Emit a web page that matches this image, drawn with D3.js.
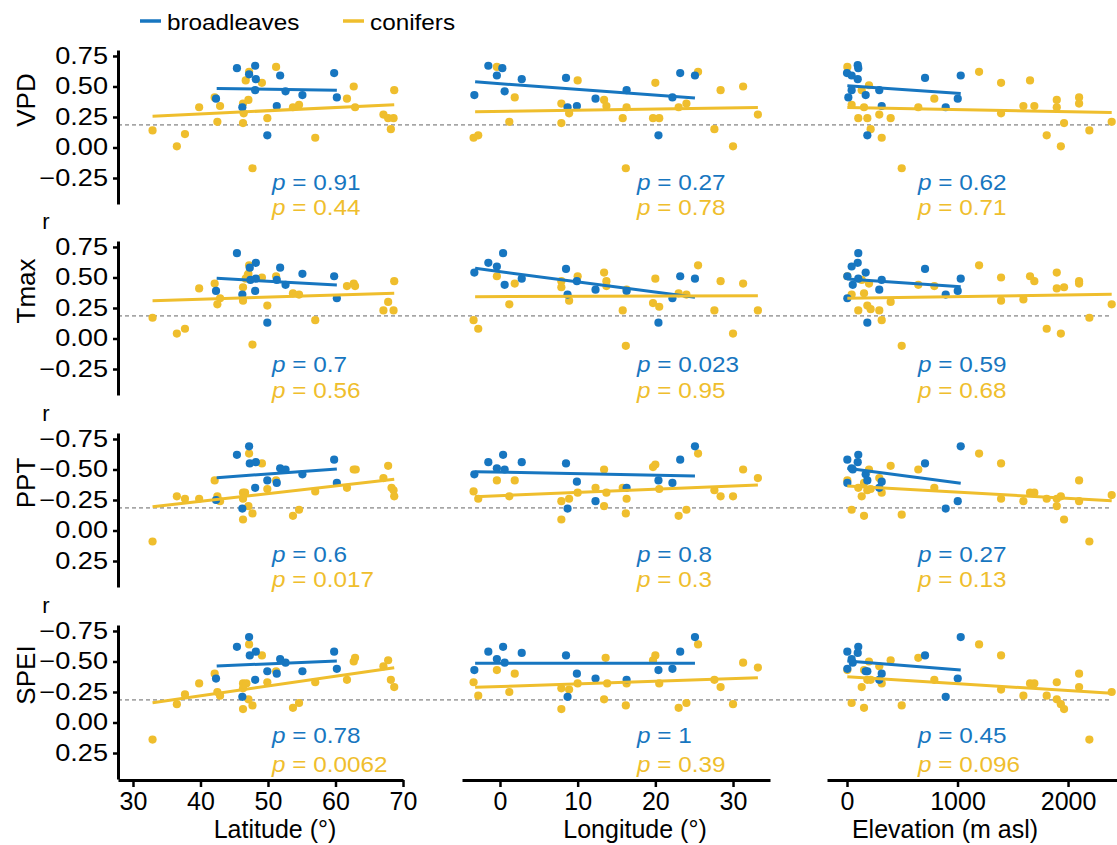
<!DOCTYPE html>
<html>
<head>
<meta charset="utf-8">
<script src="https://cdn.jsdelivr.net/npm/d3@7"></script>
<style>
  body { margin: 0; background: #fff; }
  text { font-family: "Liberation Sans", Arial, sans-serif; fill: #000; }
</style>
</head>
<body>
<svg id="chart" width="1117" height="845"></svg>
<script>
// ---- data (r values; PPT / SPEI rows as shown on their axes) ----
const variables = ["VPD", "Tmax", "PPT", "SPEI"];
const predictors = ["Latitude (°)", "Longitude (°)", "Elevation (m asl)"];
const groups = ["broadleaves", "conifers"];
const xTicks = [[30, 40, 50, 60, 70], [0, 10, 20, 30], [0, 1000, 2000]];
const yTicksUp = [0.75, 0.5, 0.25, 0, -0.25];
const yTicksDown = [-0.75, -0.5, -0.25, 0, 0.25];
const threshold = 0.185;

// VPD
const vpdLatB = [[45.4,0.65],[48.1,0.67],[47.2,0.60],[48.2,0.56],[51.8,0.59],[59.8,0.61],[48.1,0.47],[52.6,0.46],[55.1,0.43],[60.2,0.41],[42.3,0.40],[46.2,0.33],[51.3,0.34],[49.9,0.10]];
const vpdLatC = [[32.9,0.14],[36.5,0.01],[37.7,0.11],[39.8,0.33],[42.1,0.41],[42.9,0.34],[42.5,0.21],[46.3,0.36],[46.4,0.28],[46.3,0.20],[46.7,0.55],[47.2,0.62],[47.1,0.39],[49.1,0.53],[51.2,0.66],[47.7,-0.17],[49.9,0.24],[53.7,0.33],[54.6,0.35],[57.0,0.08],[61.7,0.40],[62.7,0.50],[62.9,0.33],[67.1,0.27],[67.8,0.24],[68.6,0.24],[68.2,0.15],[68.7,0.47]];
const vpdLonB = [[-1.5,0.67],[0.3,0.65],[-0.4,0.59],[2.8,0.56],[-3.3,0.43],[0.6,0.46],[8.5,0.57],[8.7,0.33],[9.9,0.34],[12.3,0.40],[16.3,0.47],[20.4,0.10],[22.2,0.41],[23.2,0.61],[25.1,0.59]];
const vpdLonC = [[-0.4,0.66],[-3.4,0.08],[-2.8,0.10],[1.2,0.21],[1.9,0.41],[7.9,0.36],[8.9,0.28],[7.9,0.20],[10.0,0.55],[13.4,0.39],[13.7,0.34],[15.8,0.24],[16.3,0.33],[16.2,-0.17],[20.0,0.53],[19.7,0.24],[20.5,0.24],[23.0,0.33],[24.0,0.36],[25.5,0.62],[28.4,0.47],[27.6,0.15],[30.0,0.01],[31.3,0.50],[33.2,0.27]];
const vpdElevB = [[97,0.675],[102,0.65],[0,0.61],[42,0.59],[97,0.56],[706,0.57],[1029,0.59],[42,0.47],[169,0.43],[292,0.47],[12,0.41],[314,0.34],[893,0.33],[1002,0.40],[184,0.10]];
const vpdElevC = [[3,0.66],[199,0.51],[133,0.47],[42,0.35],[154,0.33],[102,0.24],[184,0.24],[292,0.27],[395,0.24],[214,0.15],[314,0.08],[495,-0.17],[645,0.33],[790,0.40],[1195,0.62],[1394,0.53],[1394,0.28],[1596,0.34],[1695,0.34],[1656,0.55],[1807,0.10],[1898,0.39],[1898,0.33],[1964,0.20],[1935,0.01],[2100,0.41],[2100,0.36],[2193,0.14],[2395,0.21]];

// Tmax
const tmaxLatB = [[45.4,0.70],[48.2,0.62],[47.3,0.58],[51.8,0.58],[55.1,0.53],[59.8,0.51],[48.2,0.49],[47.4,0.48],[52.6,0.44],[42.3,0.39],[48.1,0.39],[46.2,0.36],[60.2,0.33],[49.9,0.13],[51.3,0.48]];
const tmaxLatC = [[32.9,0.17],[36.5,0.04],[37.7,0.08],[39.8,0.41],[42.1,0.45],[42.9,0.33],[42.5,0.28],[46.3,0.42],[46.3,0.31],[46.7,0.49],[47.2,0.60],[47.1,0.53],[47.0,0.52],[49.1,0.50],[51.2,0.51],[47.7,-0.05],[49.9,0.27],[53.7,0.37],[54.6,0.36],[57.0,0.15],[61.7,0.43],[62.7,0.45],[62.9,0.43],[67.1,0.23],[67.8,0.30],[68.6,0.23],[68.7,0.47]];
const tmaxLonB = [[0.4,0.70],[-1.5,0.62],[-0.4,0.59],[-3.3,0.54],[2.8,0.49],[0.6,0.44],[8.5,0.57],[9.9,0.47],[8.7,0.36],[12.3,0.40],[16.3,0.39],[20.4,0.13],[22.2,0.33],[23.2,0.51],[25.1,0.49]];
const tmaxLonC = [[-3.4,0.15],[-2.8,0.08],[-0.4,0.51],[1.2,0.28],[1.9,0.45],[7.9,0.47],[7.9,0.42],[8.9,0.31],[10.0,0.51],[13.4,0.54],[13.7,0.47],[13.7,0.43],[15.8,0.23],[16.3,0.40],[16.2,-0.06],[20.0,0.49],[19.7,0.29],[20.5,0.26],[23.0,0.37],[24.0,0.36],[25.5,0.60],[28.4,0.47],[27.6,0.23],[30.0,0.04],[31.3,0.45],[33.2,0.23]];
const tmaxElevB = [[102,0.70],[97,0.62],[42,0.59],[169,0.54],[706,0.57],[3,0.51],[102,0.49],[314,0.48],[1029,0.49],[52,0.44],[292,0.40],[1002,0.39],[893,0.36],[3,0.33],[184,0.13]];
const tmaxElevC = [[3,0.51],[199,0.45],[133,0.48],[42,0.36],[154,0.37],[102,0.23],[184,0.27],[214,0.24],[292,0.23],[314,0.15],[395,0.30],[495,-0.06],[645,0.44],[790,0.43],[1195,0.60],[1394,0.50],[1394,0.31],[1596,0.32],[1656,0.51],[1695,0.47],[1807,0.08],[1898,0.54],[1898,0.41],[1964,0.42],[1935,0.04],[2100,0.47],[2100,0.45],[2193,0.17],[2395,0.28]];

// PPT
const pptLatB = [[47.2,-0.69],[45.4,-0.62],[47.3,-0.55],[48.2,-0.56],[59.8,-0.58],[51.8,-0.51],[52.6,-0.50],[55.1,-0.46],[49.9,-0.41],[51.3,-0.39],[60.2,-0.39],[48.1,-0.35],[42.3,-0.25],[46.2,-0.18]];
const pptLatC = [[32.9,0.09],[36.5,-0.28],[37.7,-0.26],[39.8,-0.26],[42.1,-0.41],[42.5,-0.28],[42.9,-0.24],[46.3,-0.31],[46.6,-0.31],[46.3,-0.26],[47.1,-0.20],[46.3,-0.09],[47.7,-0.14],[47.2,-0.63],[49.1,-0.55],[51.2,-0.41],[49.9,-0.34],[53.7,-0.12],[54.6,-0.17],[57.0,-0.32],[61.7,-0.35],[62.7,-0.50],[63.0,-0.50],[67.1,-0.43],[67.8,-0.53],[68.3,-0.35],[68.6,-0.33],[68.7,-0.28]];
const pptLonB = [[25.1,-0.69],[0.4,-0.62],[-1.5,-0.56],[2.8,-0.56],[8.5,-0.55],[-0.4,-0.51],[0.6,-0.50],[23.2,-0.58],[-3.3,-0.46],[9.9,-0.40],[20.4,-0.41],[22.2,-0.39],[16.3,-0.35],[12.3,-0.24],[8.7,-0.18]];
const pptLonC = [[25.5,-0.63],[20.0,-0.54],[19.7,-0.52],[31.3,-0.50],[33.2,-0.43],[13.4,-0.50],[-0.4,-0.41],[1.9,-0.41],[-3.4,-0.32],[-2.8,-0.26],[1.2,-0.28],[7.9,-0.24],[8.9,-0.26],[10.0,-0.31],[12.3,-0.35],[13.7,-0.31],[15.8,-0.35],[16.3,-0.26],[20.5,-0.34],[27.6,-0.33],[28.4,-0.28],[30.0,-0.28],[13.4,-0.20],[7.9,-0.09],[16.2,-0.14],[23.0,-0.12],[24.0,-0.17]];
const pptElevB = [[1029,-0.69],[102,-0.62],[3,-0.58],[97,-0.56],[706,-0.55],[42,-0.51],[52,-0.50],[169,-0.46],[184,-0.41],[314,-0.40],[3,-0.39],[292,-0.35],[1002,-0.24],[893,-0.18]];
const pptElevC = [[1195,-0.63],[1394,-0.55],[395,-0.53],[645,-0.50],[199,-0.50],[2100,-0.41],[3,-0.41],[292,-0.43],[154,-0.39],[102,-0.35],[184,-0.33],[214,-0.34],[314,-0.31],[133,-0.28],[790,-0.35],[1656,-0.31],[1695,-0.31],[1394,-0.26],[1596,-0.24],[1807,-0.26],[1898,-0.26],[1935,-0.28],[2100,-0.24],[2395,-0.29],[1898,-0.20],[42,-0.17],[154,-0.12],[495,-0.13],[1964,-0.09],[2193,0.09]];

// SPEI
const speiLatB = [[47.2,-0.70],[45.4,-0.62],[47.3,-0.55],[48.2,-0.58],[59.8,-0.58],[51.8,-0.52],[52.6,-0.49],[55.1,-0.42],[49.9,-0.42],[51.3,-0.40],[60.2,-0.44],[48.1,-0.35],[42.3,-0.36],[46.2,-0.21]];
const speiLatC = [[32.9,0.14],[36.5,-0.15],[37.7,-0.23],[39.8,-0.32],[42.1,-0.40],[42.5,-0.25],[42.9,-0.22],[46.3,-0.32],[46.8,-0.32],[46.3,-0.28],[47.1,-0.19],[46.3,-0.11],[47.7,-0.14],[47.2,-0.64],[49.1,-0.55],[51.2,-0.42],[49.9,-0.33],[53.7,-0.12],[54.6,-0.16],[57.0,-0.33],[61.7,-0.35],[62.7,-0.50],[62.9,-0.53],[67.1,-0.46],[67.8,-0.51],[68.2,-0.35],[68.7,-0.29]];
const speiLonB = [[25.1,-0.70],[0.4,-0.62],[-1.5,-0.58],[2.8,-0.57],[23.2,-0.58],[8.5,-0.55],[-0.4,-0.52],[0.6,-0.49],[-3.3,-0.43],[20.4,-0.43],[22.2,-0.44],[9.9,-0.40],[12.3,-0.36],[16.3,-0.35],[8.7,-0.21]];
const speiLonC = [[25.5,-0.64],[20.0,-0.55],[19.7,-0.51],[31.3,-0.49],[33.2,-0.45],[13.6,-0.53],[-0.4,-0.43],[1.9,-0.40],[-3.4,-0.33],[-2.8,-0.22],[1.2,-0.25],[7.9,-0.28],[8.9,-0.27],[10.0,-0.32],[13.8,-0.32],[16.3,-0.32],[20.5,-0.32],[27.6,-0.35],[28.4,-0.29],[30.0,-0.15],[13.4,-0.19],[7.9,-0.11],[16.2,-0.14],[23.0,-0.12],[24.0,-0.16]];
const speiElevB = [[1029,-0.70],[102,-0.62],[3,-0.58],[97,-0.57],[706,-0.55],[42,-0.52],[52,-0.49],[169,-0.42],[184,-0.42],[314,-0.40],[3,-0.44],[292,-0.35],[1002,-0.36],[893,-0.21]];
const speiElevC = [[1195,-0.64],[1394,-0.55],[645,-0.53],[395,-0.51],[199,-0.50],[292,-0.46],[2100,-0.40],[3,-0.43],[154,-0.43],[184,-0.35],[214,-0.35],[314,-0.32],[133,-0.29],[790,-0.35],[1656,-0.32],[1695,-0.32],[1898,-0.33],[1394,-0.27],[1596,-0.22],[1807,-0.22],[2100,-0.29],[2395,-0.25],[1898,-0.19],[1935,-0.15],[1964,-0.11],[42,-0.16],[154,-0.12],[495,-0.14],[2193,0.14]];

// fitted lines: [x start, y start, x end, y end], per row then column
const fitsB = [
  [[42.4,0.484,60.2,0.470], [-3.2,0.538,25.1,0.405], [3,0.506,1029,0.443]],
  [[42.4,0.493,60.2,0.439], [-3.2,0.575,25.1,0.338], [3,0.488,1029,0.425]],
  [[42.4,-0.433,60.2,-0.504], [-3.2,-0.482,25.1,-0.447], [3,-0.510,1029,-0.387]],
  [[42.4,-0.463,60.2,-0.504], [-3.2,-0.485,25.1,-0.485], [3,-0.504,1029,-0.430]]
];
const fitsC = [
  [[32.9,0.257,68.7,0.350], [-3.2,0.292,33.2,0.328], [3,0.328,2395,0.287]],
  [[32.9,0.310,68.7,0.370], [-3.2,0.343,33.2,0.351], [3,0.330,2395,0.362]],
  [[32.9,-0.195,68.7,-0.420], [-3.2,-0.277,33.2,-0.373], [3,-0.365,2395,-0.244]],
  [[32.9,-0.162,68.7,-0.449], [-3.2,-0.288,33.2,-0.367], [3,-0.375,2395,-0.239]]
];
const pB = [["0.91","0.27","0.62"], ["0.7","0.023","0.59"], ["0.6","0.8","0.27"], ["0.78","1","0.45"]];
const pC = [["0.44","0.78","0.71"], ["0.56","0.95","0.68"], ["0.017","0.3","0.13"], ["0.0062","0.39","0.096"]];

const pointsB = [[vpdLatB, vpdLonB, vpdElevB], [tmaxLatB, tmaxLonB, tmaxElevB], [pptLatB, pptLonB, pptElevB], [speiLatB, speiLonB, speiElevB]];
const pointsC = [[vpdLatC, vpdLonC, vpdElevC], [tmaxLatC, tmaxLonC, tmaxElevC], [pptLatC, pptLonC, pptElevC], [speiLatC, speiLonC, speiElevC]];

// ---- layout ----
const colRange = [[118, 403], [462, 770], [827, 1117]];
const colDomain = [[27.78, 70], [-4.89, 34.76], [-181, 2443]];
const rowTop = [50, 241, 433, 625];
const panelH = 154;
const yLow = -0.463, yHigh = 0.799;
const pLabelX = [272, 637, 918];
const pLabelDy = [[140, 165], [131, 157], [129, 154], [118, 147]];
const titleX = [275, 635, 945];
const blue = "#1776C0", yellow = "#EFBE2D";
const fontTick = 23, sxTick = 1.18;

const svg = d3.select("#chart");

function scaledText(g, x, y, size, sx) {
  return g.append("text")
    .attr("transform", `translate(${x},${y}) scale(${sx},1)`)
    .attr("font-size", size);
}

// legend
[[140, blue, groups[0]], [343, yellow, groups[1]]].forEach(([x, c, label]) => {
  svg.append("line").attr("x1", x).attr("x2", x + 21).attr("y1", 21).attr("y2", 21)
    .attr("stroke", c).attr("stroke-width", 3.5);
  scaledText(svg, x + 27, 30, 22.5, 1.08).text(label);
});

variables.forEach((v, ri) => {
  const top = rowTop[ri];
  const flipped = ri >= 2;
  const y = d3.scaleLinear()
    .domain(flipped ? [-yLow, -yHigh] : [yLow, yHigh])
    .range([top + panelH, top]);

  // threshold line across the row
  const thr = flipped ? -threshold : threshold;
  svg.append("line")
    .attr("x1", colRange[0][0]).attr("x2", colRange[2][1] - 8)
    .attr("y1", y(thr)).attr("y2", y(thr))
    .attr("stroke", "#666").attr("stroke-width", 1).attr("stroke-dasharray", "4,3");

  // y axis (first column only)
  const yAxis = d3.axisLeft(y)
    .tickValues(flipped ? yTicksDown : yTicksUp)
    .tickFormat(d3.format(".2f"))
    .tickSize(5).tickSizeOuter(0);
  const ya = svg.append("g").attr("transform", `translate(${colRange[0][0]},0)`).call(yAxis);
  ya.select(".domain").attr("stroke", "#000").attr("stroke-width", 3);
  ya.selectAll(".tick line").attr("stroke", "#000").attr("stroke-width", 2.5);
  ya.selectAll(".tick text")
    .attr("font-size", fontTick).attr("fill", "#000")
    .attr("x", -10 / sxTick).attr("transform", `scale(${sxTick},1)`)
    .attr("font-family", "Liberation Sans, Arial, sans-serif");

  // row title and "r"
  svg.append("text")
    .attr("transform", `translate(35,${top + 50}) rotate(-90)`)
    .attr("text-anchor", "middle").attr("font-size", 26).text(v);
  if (ri > 0) {
    svg.append("text").attr("x", 46).attr("y", top - 12)
      .attr("text-anchor", "middle").attr("font-size", 22).text("r");
  }

  predictors.forEach((pname, ci) => {
    const x = d3.scaleLinear().domain(colDomain[ci]).range(colRange[ci]);
    const g = svg.append("g");

    const series = [[pointsC[ri][ci], yellow], [pointsB[ri][ci], blue]];
    series.forEach(([pts, c]) => {
      g.append("g").selectAll("circle").data(pts).join("circle")
        .attr("cx", d => x(d[0])).attr("cy", d => y(d[1]))
        .attr("r", 4.1).attr("fill", c);
    });

    [[fitsB[ri][ci], blue], [fitsC[ri][ci], yellow]].forEach(([f, c]) => {
      g.append("line")
        .attr("x1", x(f[0])).attr("y1", y(f[1]))
        .attr("x2", x(f[2])).attr("y2", y(f[3]))
        .attr("stroke", c).attr("stroke-width", 3).attr("stroke-linecap", "butt");
    });

    // p-values
    [[pB[ri][ci], blue, pLabelDy[ri][0]], [pC[ri][ci], yellow, pLabelDy[ri][1]]].forEach(([val, c, dy]) => {
      const t = scaledText(g, pLabelX[ci], top + dy, 22.5, 1.08).style("fill", c);
      t.append("tspan").attr("font-style", "italic").text("p");
      t.append("tspan").text(" = " + val);
    });

    // x axis on bottom row
    if (ri === variables.length - 1) {
      const xAxis = d3.axisBottom(x).tickValues(xTicks[ci])
        .tickFormat(d3.format("d")).tickSize(7).tickSizeOuter(0);
      const xa = svg.append("g").attr("transform", `translate(0,${top + panelH + 1})`).call(xAxis);
      xa.select(".domain").attr("stroke", "#000").attr("stroke-width", 3);
      xa.selectAll(".tick line").attr("stroke", "#000").attr("stroke-width", 2.5);
      xa.selectAll(".tick text").attr("font-size", 25).attr("fill", "#000")
        .attr("y", 12).attr("font-family", "Liberation Sans, Arial, sans-serif");
      svg.append("text").attr("x", titleX[ci]).attr("y", 838)
        .attr("text-anchor", "middle").attr("font-size", 25).text(pname);
    }
  });
});
</script>
</body>
</html>
